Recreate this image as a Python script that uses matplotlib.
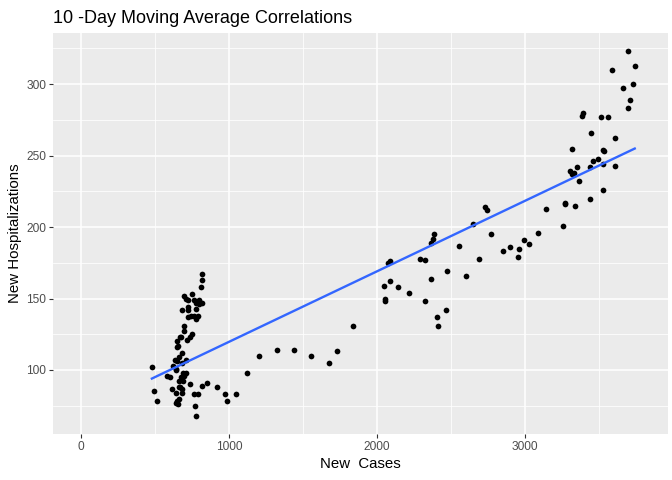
import numpy as np
import matplotlib
matplotlib.use("Agg")
import matplotlib.pyplot as plt
from matplotlib.ticker import MultipleLocator

plt.rcParams['font.family'] = ['Liberation Sans', 'DejaVu Sans']

# 10-day moving averages
new_cases = [
    817, 817, 813, 696, 750, 707, 723, 763, 779, 801, 819, 797, 682, 723, 723,
    777, 745, 723, 763, 790, 779, 696, 696, 750, 734, 716, 667, 678, 648, 655,
    650, 682, 661, 633, 648, 682, 712, 622, 644, 640, 480, 689, 707, 695, 700,
    582, 600, 678, 665, 688, 670, 660, 680, 734, 817, 850, 918, 1120, 1204,
    615, 494, 514, 646, 685, 660, 650, 655, 640, 763, 790, 774, 777, 972, 985,
    1046,
    1322, 1437, 1551, 1679, 1733, 1841, 2049, 2056, 2056, 2077, 2090, 2090,
    2144, 2218, 2292, 2325, 2325, 2366, 2406, 2413, 2467, 2474, 2601, 2689,
    2366, 2379, 2386, 2554, 2648, 2729, 2743, 2770, 2851, 2898, 2956, 2952,
    2992, 3026, 3086, 3140, 3255, 3268, 3268, 3335, 3437, 3524, 3302, 3315,
    3329, 3362, 3349, 3437, 3457, 3490, 3524, 3605, 3315, 3524, 3531, 3605,
    3443, 3382, 3389, 3510, 3558, 3585, 3659, 3692, 3706, 3726, 3740, 3692,
]
new_hosp = [
    167, 163, 158, 152, 153, 150, 149, 149, 147, 149, 147, 146, 142, 144, 142,
    143, 138, 137, 138, 138, 136, 131, 127, 125, 123, 121, 123, 123, 120, 117,
    116, 112, 109, 107, 106, 105, 107, 103, 100, 101, 102, 98, 98, 96, 97,
    96, 95, 95, 92, 92, 88, 88, 87, 90, 89, 91, 88, 98, 110,
    87, 85, 78, 84, 84, 80, 78, 76, 77, 83, 83, 75, 68, 83, 78,
    83,
    114, 114, 110, 105, 113, 131, 159, 150, 148, 175, 176, 162,
    158, 154, 178, 177, 148, 164, 137, 131, 142, 169, 166, 178,
    189, 192, 195, 187, 202, 214, 212, 195, 183, 186, 185, 179,
    191, 188, 196, 213, 201, 217, 216, 215, 220, 226, 239, 237,
    238, 232, 242, 242, 246, 248, 244, 243, 255, 254, 253, 262,
    266, 278, 280, 277, 277, 310, 297, 283, 289, 300, 313, 323,
]

x = np.array(new_cases, dtype=float)
y = np.array(new_hosp, dtype=float)

fig = plt.figure(figsize=(6.72, 4.8), dpi=100)
ax = fig.add_axes([0.079, 0.096, 0.915, 0.835])
ax.set_facecolor("#EBEBEB")
for s in ax.spines.values():
    s.set_visible(False)

ax.scatter(x, y, s=17, color="black", linewidths=0, zorder=3)

# linear fit like geom_smooth(method = "lm", se = FALSE)
slope, icpt = np.polyfit(x, y, 1)
xs = np.linspace(x.min(), x.max(), 80)
ax.plot(xs, icpt + slope * xs, color="#3366FF", lw=1.7, zorder=4)

# ggplot-like default expansion, x limits include 0
xlo, xhi = 0, x.max()
ylo, yhi = y.min(), y.max()
ax.set_xlim(xlo - 0.05 * (xhi - xlo), xhi + 0.06 * (xhi - xlo))
ax.set_ylim(ylo - 0.05 * (yhi - ylo), yhi + 0.05 * (yhi - ylo))

ax.xaxis.set_major_locator(MultipleLocator(1000))
ax.xaxis.set_minor_locator(MultipleLocator(500))
ax.yaxis.set_major_locator(MultipleLocator(50))
ax.yaxis.set_minor_locator(MultipleLocator(25))
ax.grid(which="major", color="white", lw=1.1)
ax.grid(which="minor", color="white", lw=0.55)
ax.set_axisbelow(True)
ax.tick_params(which="major", length=3, width=0.8, color="#333333",
               labelcolor="#4D4D4D", labelsize=8.6, pad=2)
ax.tick_params(which="minor", length=0)

ax.set_xlabel("New  Cases", fontsize=10.8, labelpad=3)
ax.set_ylabel("New Hospitalizations", fontsize=10.8, labelpad=3)
fig.text(0.079, 0.962, "10 -Day Moving Average Correlations", fontsize=13,
         ha="left", va="center")

fig.savefig("out.png", dpi=100)
